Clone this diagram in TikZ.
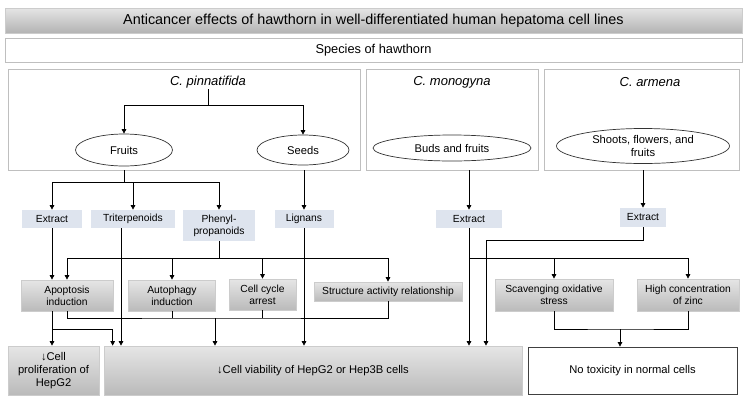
\documentclass[tikz,border=0pt]{standalone}
\usepackage{fontspec}
\setmainfont{Liberation Sans}
\usetikzlibrary{arrows.meta,shapes.geometric}
\definecolor{compfill}{RGB}{222,228,238}

\begin{document}
\begin{tikzpicture}[x=1pt,y=-1pt,line width=0.7pt,
  lab/.style={font=\fontsize{10.3}{12}\selectfont,align=center,inner sep=0pt},
  big/.style={font=\fontsize{11.2}{13}\selectfont},
  spec/.style={font=\fontsize{13}{15}\selectfont\itshape,inner sep=1pt},
  panel/.style={draw=black!25,line width=0.8pt,inner sep=0pt,minimum height=101pt},
  comp/.style={lab,fill=compfill},
  effect/.style={lab,draw=black!20,top color=black!10,bottom color=black!27},
  part/.style={lab,big,ellipse,draw=black!80},
  arr/.style={-{Triangle[length=4.5pt,width=4.5pt]}}]
  \useasboundingbox (0,0) rectangle (746,405);
  \node[draw=black!20,top color=black!10,bottom color=black!30,minimum width=737pt,minimum height=25pt,font=\fontsize{14.4}{17}\selectfont] (title) at (373.5,20.5) {Anticancer effects of hawthorn in well-differentiated human hepatoma cell lines};
  \node[draw=black!25,minimum width=737pt,minimum height=24pt,font=\fontsize{12.8}{15}\selectfont] (species) at (373.5,50) {Species of hawthorn};
  \node[panel,minimum width=352pt] (pinnp) at (184,119.5) {};
  \node[panel,minimum width=172pt] (monop) at (452,119.5) {};
  \node[panel,minimum width=195pt] (armp) at (641.5,119.5) {};
  \node[spec] (pinn) at (208,82) {C. pinnatifida};
  \node[spec] (mono) at (452,82) {C. monogyna};
  \node[spec] (arm) at (650,82) {C. armena};
  \node[part,minimum width=97pt,minimum height=32pt] (fruits) at (124,150) {Fruits};
  \node[part,minimum width=92pt,minimum height=30pt] (seeds) at (303,150) {Seeds};
  \node[part,minimum width=158pt,minimum height=26pt] (buds) at (452,148) {Buds and fruits};
  \node[part,minimum width=173pt,minimum height=35pt] (shoots) at (643,146) {Shoots, flowers, and\\fruits};
  \node[comp,minimum width=60pt,minimum height=18pt] (ext1) at (52,219) {Extract};
  \node[comp,minimum width=84pt,minimum height=18pt] (trit) at (133,219) {Triterpenoids};
  \node[comp,minimum width=72pt,minimum height=31pt] (phen) at (219,225.5) {Phenyl-\\propanoids};
  \node[comp,minimum width=59pt,minimum height=18pt] (lign) at (304,219) {Lignans};
  \node[comp,minimum width=66pt,minimum height=18pt] (ext2) at (469,219) {Extract};
  \node[comp,minimum width=46pt,minimum height=19pt] (ext3) at (643,217.5) {Extract};
  \node[effect,minimum width=92pt,minimum height=31pt] (apop) at (67,295.5) {Apoptosis\\induction};
  \node[effect,minimum width=87pt,minimum height=31pt] (auto) at (172,295.5) {Autophagy\\induction};
  \node[effect,minimum width=67pt,minimum height=31pt] (cycle) at (262.5,294.5) {Cell cycle\\arrest};
  \node[effect,minimum width=148pt,minimum height=19pt] (struct) at (388,291.5) {Structure activity relationship};
  \node[effect,minimum width=118pt,minimum height=32pt] (scav) at (554,295) {Scavenging oxidative\\stress};
  \node[effect,minimum width=102pt,minimum height=32pt] (zinc) at (688,295) {High concentration\\of zinc};
  \node[effect,big,minimum width=91pt,minimum height=49pt] (prolif) at (53.5,370.5) {↓Cell\\proliferation of\\HepG2};
  \node[effect,big,minimum width=418pt,minimum height=49pt] (viab) at (313,370.5) {↓Cell viability of HepG2 or Hep3B cells};
  \node[lab,big,draw=black!75,line width=0.8pt,minimum width=209pt,minimum height=47pt] (notox) at (632.5,370.5) {No toxicity in normal cells};
  \coordinate (pt) at (208,105);
  \coordinate (fb) at (124,182);
  \coordinate (pb) at (219,258);
  \coordinate (tr) at ([xshift=-12pt]trit.south);
  \coordinate (ab) at (52,329);
  \coordinate (eb) at (215,318);
  \coordinate (mb) at (469,258);
  \coordinate (xb) at (486,240);
  \coordinate (zb) at (620,329);
  \draw (pinn) -- (pt);
  \foreach \n in {fruits,seeds} \draw[arr] (pt) -| (\n);
  \draw (pinnp.south -| fruits) -- (fb);
  \foreach \n in {ext1,trit,phen} \draw[arr] (fb) -| (\n);
  \draw[arr] (pinnp.south -| lign) -- (lign);
  \draw[arr] (monop.south -| ext2) -- (ext2);
  \draw[arr] (armp.south -| ext3) -- (ext3);
  \draw (phen) -- (pb);
  \foreach \n in {apop,auto,cycle,struct} \draw[arr] (pb) -| (\n);
  \draw[arr] (ext1) -- (ext1 |- apop.north);
  \draw[arr] (tr) -- (tr |- viab.north);
  \draw[arr] (lign) -- (lign |- viab.north);
  \draw[arr] (ext2) -- (ext2 |- viab.north);
  \draw[arr] (ext1 |- apop.south) -- (ext1 |- prolif.north);
  \draw[arr] (ab) -| ([xshift=9pt]viab.north west);
  \draw (apop) |- (eb) -| (struct);
  \foreach \n in {auto,cycle} \draw (\n) -- (\n |- eb);
  \draw[arr] (eb) -- (eb |- viab.north);
  \foreach \n in {scav,zinc} \draw[arr] (mb) -| (\n);
  \draw[arr] (ext3) |- (xb) -- (xb |- viab.north);
  \draw (scav) |- (zb) -| (zinc);
  \draw[arr] (zb) -- (zb |- notox.north);
\end{tikzpicture}
\end{document}
